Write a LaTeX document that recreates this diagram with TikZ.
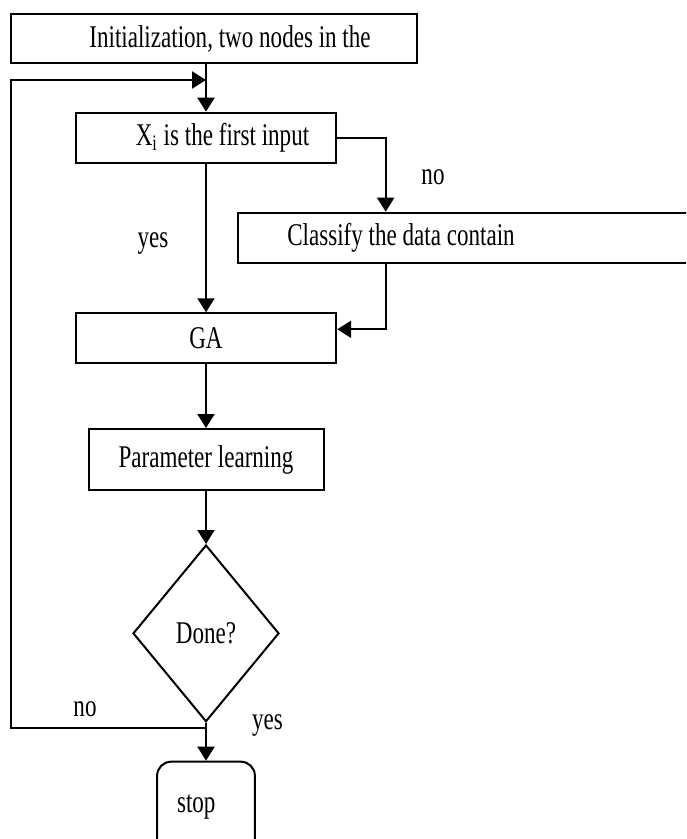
\documentclass[tikz,border=0pt]{standalone}
\usepackage{fontspec}
\setmainfont[FakeStretch=0.73]{Liberation Serif}
\usetikzlibrary{shapes.geometric,arrows.meta}
\begin{document}
\begin{tikzpicture}[x=0.5pt,y=-0.5pt,
        every node/.style={font=\fontsize{15.8}{19}\selectfont},
        box/.style={draw,line width=1pt,inner sep=0pt},
        decision/.style={draw,diamond,line width=1pt,inner sep=0pt},
        endbox/.style={draw,rounded corners=7pt,line width=1pt,inner sep=0pt},
        arrow/.style={line width=1pt,-{Triangle[length=7pt,width=8.5pt]}}]
            \useasboundingbox (0,0) rectangle (686,839);
            \clip (0,0) rectangle (686,839);
            \node[box,minimum width=203pt,minimum height=24.5pt] (init) at (214,38.5) {\hspace*{16pt}Initialization, two nodes in the};
            \node[box,minimum width=130.2pt,minimum height=25.3pt] (xi) at (206,138) {\hspace*{16.5pt}X\textsubscript{i} is the first input};
            \node[box,minimum width=241pt,minimum height=25.3pt] (cls) at (479,238) {Classify the data contain\hspace*{78pt}};
            \node[box,minimum width=130.2pt,minimum height=25pt] (ga) at (206,338.3) {GA};
            \node[box,minimum width=117.5pt,minimum height=30.5pt] (param) at (206,459.5) {Parameter learning};
            \node[decision,minimum width=73pt,minimum height=88.35pt] (done) at (206,633.35) {Done?};
            \node[endbox,minimum width=48.9pt,minimum height=45pt] (stop) at (206,806.7) {stop\hspace*{9.7pt}};
            \node (no1) at (433,177) {no};
            \node (yes1) at (153,243) {yes};
            \node (no2) at (85,709) {no};
            \node (yes2) at (267.5,725) {yes};
            \coordinate (merge) at (206,80);
            \coordinate (back) at (11,727.7);
            \coordinate (clsin) at (385.7,0);
            \draw[arrow] (xi.north |- init.south) -- (xi.north);
            \draw[arrow] (done.south) |- (back) |- (merge);
            \draw[arrow] (xi.east) -| (clsin |- cls.north);
            \draw[arrow] (xi.south) -- (ga.north);
            \draw[arrow] (clsin |- cls.south) |- ([yshift=4.5pt]ga.east);
            \draw[arrow] (ga.south) -- (param.north);
            \draw[arrow] (param.south) -- (done.north);
            \draw[arrow] (done.south) -- (stop.north);
        \end{tikzpicture}
\end{document}
